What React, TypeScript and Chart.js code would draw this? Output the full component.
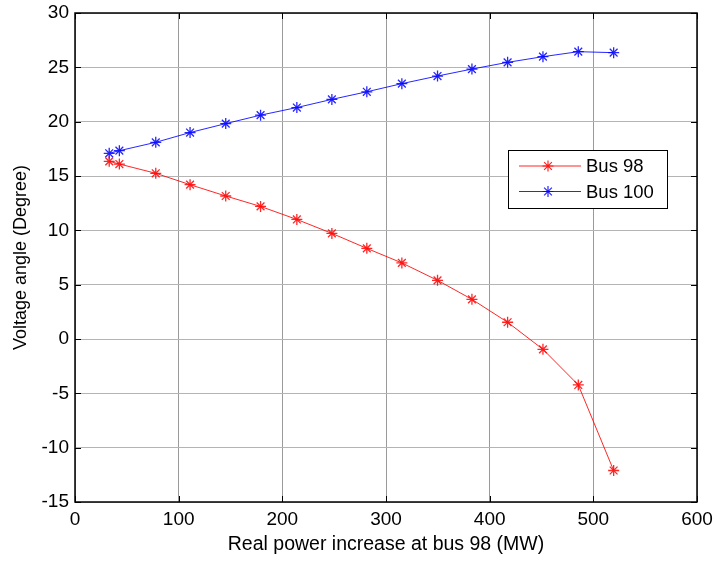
import React, { useEffect, useRef } from "react";
import { Chart, registerables } from "chart.js";

Chart.register(...registerables);

const powerIncrease = [33, 42.8, 77.9, 111, 145.4, 179, 214, 247.8, 281.5, 315.3, 349.7, 382.9, 417.3, 451.4, 485.5, 519.6];
const bus98Angle = [16.35, 16.1, 15.25, 14.2, 13.16, 12.2, 11.0, 9.72, 8.34, 7.0, 5.4, 3.65, 1.54, -0.95, -4.23, -12.1];
const bus100Angle = [17.09, 17.33, 18.1, 19.0, 19.82, 20.6, 21.3, 22.05, 22.75, 23.5, 24.2, 24.84, 25.46, 25.98, 26.44, 26.35];
const seriesNames = ["Bus 98", "Bus 100"];
const xTicks = [0, 100, 200, 300, 400, 500, 600];
const yTicks = [-15, -10, -5, 0, 5, 10, 15, 20, 25, 30];

const RED = "rgba(255,0,0,0.85)";
const BLUE = "rgba(0,0,255,0.85)";
const FAMILY = "'Liberation Sans', Arial, sans-serif";

function drawStar(ctx: CanvasRenderingContext2D, x: number, y: number, r: number, color: string) {
  ctx.save();
  ctx.strokeStyle = color;
  ctx.lineWidth = 1.2;
  ctx.beginPath();
  for (let i = 0; i < 4; i++) {
    const a = (i * Math.PI) / 4;
    ctx.moveTo(x + Math.cos(a) * r, y + Math.sin(a) * r);
    ctx.lineTo(x - Math.cos(a) * r, y - Math.sin(a) * r);
  }
  ctx.stroke();
  ctx.restore();
}

const framePlugin = {
  id: "frame",
  afterDatasetsDraw(chart: any) {
    const { ctx, chartArea } = chart;
    const { left, right, top, bottom } = chartArea;
    const xs = chart.scales.x;
    const ys = chart.scales.y;
    ctx.save();
    ctx.strokeStyle = "#000";
    ctx.lineWidth = 1;
    ctx.beginPath();
    xTicks.forEach((v) => {
      const px = Math.round(xs.getPixelForValue(v)) + 0.5;
      ctx.moveTo(px, bottom);
      ctx.lineTo(px, bottom - 6);
      ctx.moveTo(px, top);
      ctx.lineTo(px, top + 6);
    });
    yTicks.forEach((v) => {
      const py = Math.round(ys.getPixelForValue(v)) + 0.5;
      ctx.moveTo(left, py);
      ctx.lineTo(left + 6, py);
      ctx.moveTo(right, py);
      ctx.lineTo(right - 6, py);
    });
    ctx.stroke();
    ctx.lineWidth = 1.5;
    ctx.strokeRect(left, top, right - left, bottom - top);

    // legend
    const lx = left + 433;
    const ly = top + 137;
    const lw = 159;
    const lh = 58;
    ctx.fillStyle = "#fff";
    ctx.fillRect(lx, ly, lw, lh);
    ctx.lineWidth = 1;
    ctx.strokeStyle = "#000";
    ctx.strokeRect(lx + 0.5, ly + 0.5, lw, lh);
    const rows = [
      { name: seriesNames[0], color: RED, y: ly + 16 },
      { name: seriesNames[1], color: BLUE, y: ly + 41.5 },
    ];
    rows.forEach((r) => {
      ctx.strokeStyle = r.color;
      ctx.lineWidth = 1;
      ctx.beginPath();
      ctx.moveTo(lx + 11, r.y);
      ctx.lineTo(lx + 73, r.y);
      ctx.stroke();
      drawStar(ctx, lx + 40, r.y, 5.5, r.color);
      ctx.fillStyle = "#000";
      ctx.font = `18.5px ${FAMILY}`;
      ctx.textAlign = "left";
      ctx.textBaseline = "middle";
      ctx.fillText(r.name, lx + 78, r.y + 1);
    });
    ctx.restore();
  },
};

export default function App() {
  const ref = useRef<HTMLCanvasElement | null>(null);
  useEffect(() => {
    document.body.style.margin = "0";
    const canvas = ref.current;
    if (!canvas) return;
    const font = { family: FAMILY, size: 19 };
    const chart = new Chart(canvas, {
      type: "line",
      data: {
        datasets: [
          {
            label: seriesNames[0],
            data: powerIncrease.map((x, i) => ({ x, y: bus98Angle[i] })),
            borderColor: RED,
            backgroundColor: RED,
            borderWidth: 1,
            pointStyle: "star",
            pointRadius: 5.5,
            pointBorderColor: RED,
            pointBorderWidth: 1.3,
            fill: false,
            tension: 0,
          },
          {
            label: seriesNames[1],
            data: powerIncrease.map((x, i) => ({ x, y: bus100Angle[i] })),
            borderColor: BLUE,
            backgroundColor: BLUE,
            borderWidth: 1,
            pointStyle: "star",
            pointRadius: 5.5,
            pointBorderColor: BLUE,
            pointBorderWidth: 1.3,
            fill: false,
            tension: 0,
          },
        ],
      },
      options: {
        animation: false,
        responsive: false,
        maintainAspectRatio: false,
        layout: { padding: { left: 0, top: 13, right: 17, bottom: 0 } },
        plugins: { legend: { display: false }, tooltip: { enabled: false } },
        scales: {
          x: {
            type: "linear",
            min: 0,
            max: 600,
            afterBuildTicks: (s: any) => {
              s.ticks = xTicks.map((v) => ({ value: v }));
            },
            afterFit: (s: any) => {
              s.height = 59;
              s.paddingLeft = 0;
              s.paddingRight = 0;
            },
            grid: { color: "#9a9a9a", drawTicks: false, lineWidth: 1 },
            border: { display: false },
            ticks: { color: "#000", font, padding: 6, maxRotation: 0 },
            title: {
              display: true,
              text: "Real power increase at bus 98 (MW)",
              color: "#000",
              font: { family: FAMILY, size: 19.5 },
              padding: { top: 0, bottom: 5 },
            },
          },
          y: {
            type: "linear",
            min: -15,
            max: 30,
            afterBuildTicks: (s: any) => {
              s.ticks = yTicks.map((v) => ({ value: v }));
            },
            afterFit: (s: any) => {
              s.width = 75;
              s.paddingTop = 0;
              s.paddingBottom = 0;
            },
            grid: { color: "#b4b4b4", drawTicks: false, lineWidth: 1 },
            border: { display: false },
            ticks: { color: "#000", font, padding: 6 },
            title: {
              display: true,
              text: "Voltage angle (Degree)",
              color: "#000",
              font: { family: FAMILY, size: 18 },
              padding: { top: 10, bottom: 0 },
            },
          },
        },
      },
      plugins: [framePlugin],
    });
    return () => chart.destroy();
  }, []);
  return (
    <div style={{ position: "absolute", left: 0, top: 0, width: 714, height: 561, background: "#fff" }}>
      <canvas ref={ref} width={714} height={561} style={{ width: 714, height: 561, display: "block" }} />
    </div>
  );
}
